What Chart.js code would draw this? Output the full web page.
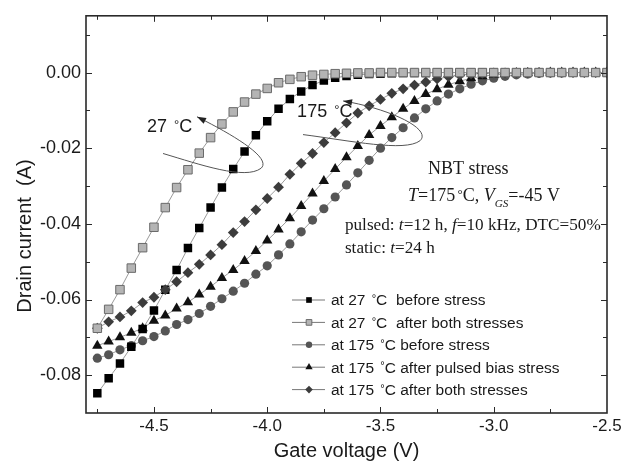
<!DOCTYPE html>
<html>
<head>
<meta charset="utf-8">
<script src="https://cdn.jsdelivr.net/npm/chart.js@4.4.0/dist/chart.umd.min.js"></script>
<style>
  html, body { margin: 0; padding: 0; background: #fff; }
</style>
</head>
<body>
<canvas id="chart" width="626" height="463"></canvas>
<script>
// Transfer curves of the transistor before / after NBT stress

const gateVoltage = [
  -4.75, -4.70, -4.65, -4.60, -4.55, -4.50, -4.45, -4.40, -4.35, -4.30,
  -4.25, -4.20, -4.15, -4.10, -4.05, -4.00, -3.95, -3.90, -3.85, -3.80,
  -3.75, -3.70, -3.65, -3.60, -3.55, -3.50, -3.45, -3.40, -3.35, -3.30,
  -3.25, -3.20, -3.15, -3.10, -3.05, -3.00, -2.95, -2.90, -2.85, -2.80,
  -2.75, -2.70, -2.65, -2.60, -2.55, -2.50
];

// at 27 C before stress (black squares)
const i27Before = [
  -0.0848, -0.0808, -0.0769, -0.0725, -0.0678, -0.0629, -0.0574, -0.0522, -0.0464, -0.0411,
  -0.0357, -0.0304, -0.0255, -0.0209, -0.0166, -0.0129, -0.0096, -0.0070, -0.0050, -0.0033,
  -0.0021, -0.0014, -0.0009, -0.0006, -0.0004, -0.0003, -0.0002, -0.0001, -0.0001, -0.0001,
  0, 0, 0, 0, 0, 0, 0, 0, 0, 0,
  0, 0, 0, 0, 0, 0
];

// at 27 C after both stresses (grey squares)
const i27After = [
  -0.0676, -0.0626, -0.0574, -0.0517, -0.0463, -0.0409, -0.0357, -0.0304, -0.0257, -0.0213,
  -0.0172, -0.0136, -0.0104, -0.0078, -0.0057, -0.0042, -0.0027, -0.0018, -0.0011, -0.0007,
  -0.0005, -0.0003, -0.0002, -0.0001, -0.0001, 0, 0, 0, 0, 0,
  0, 0, 0, 0, 0, 0, 0, 0, 0, 0,
  0, 0, 0, 0, 0, 0
];

// at 175 C before stress (circles)
const i175Before = [
  -0.0755, -0.0746, -0.0733, -0.0722, -0.0709, -0.0698, -0.0683, -0.0666, -0.0653, -0.0637,
  -0.0618, -0.0598, -0.0578, -0.0557, -0.0533, -0.0511, -0.0482, -0.0453, -0.0421, -0.0390,
  -0.0360, -0.0329, -0.0297, -0.0265, -0.0232, -0.0200, -0.0172, -0.0146, -0.0120, -0.0096,
  -0.0075, -0.0057, -0.0043, -0.0031, -0.0022, -0.0015, -0.0010, -0.0006, -0.0004, -0.0002,
  -0.0001, -0.0001, 0, 0, 0, 0
];

// at 175 C after pulsed bias stress (triangles)
const i175Pulsed = [
  -0.0722, -0.0711, -0.0700, -0.0688, -0.0676, -0.0656, -0.0642, -0.0624, -0.0607, -0.0587,
  -0.0566, -0.0543, -0.0522, -0.0498, -0.0472, -0.0444, -0.0415, -0.0385, -0.0353, -0.0320,
  -0.0287, -0.0255, -0.0224, -0.0194, -0.0165, -0.0141, -0.0118, -0.0096, -0.0075, -0.0057,
  -0.0044, -0.0032, -0.0023, -0.0015, -0.0010, -0.0006, -0.0004, -0.0002, -0.0001, -0.0001,
  0, 0, 0, 0, 0, 0
];

// at 175 C after both stresses (diamonds)
const i175Both = [
  -0.0676, -0.0659, -0.0646, -0.0630, -0.0608, -0.0594, -0.0574, -0.0553, -0.0529, -0.0507,
  -0.0482, -0.0455, -0.0423, -0.0394, -0.0363, -0.0333, -0.0303, -0.0269, -0.0240, -0.0214,
  -0.0185, -0.0159, -0.0133, -0.0107, -0.0088, -0.0071, -0.0055, -0.0043, -0.0033, -0.0025,
  -0.0017, -0.0011, -0.0007, -0.0004, -0.0002, -0.0001, -0.0001, 0, 0, 0,
  0, 0, 0, 0, 0, 0
];

const seriesLabels = [
  "at 27 °C  before stress",
  "at 27 °C  after both stresses",
  "at 175 °C before stress",
  "at 175 °C after pulsed bias stress",
  "at 175 °C after both stresses"
];

const xTicks = [-4.5, -4.0, -3.5, -3.0, -2.5];
const yTicks = [-0.08, -0.06, -0.04, -0.02, 0.0];

const SANS = '"Liberation Sans", Arial, sans-serif';
const SERIF = '"Liberation Serif", "Times New Roman", serif';

const toPoints = ys => gateVoltage.map((v, i) => ({ x: v, y: ys[i] }));

// marker styles, same order as seriesLabels
const markers = [
  { pointStyle: "rect", radius: 6, bg: "#000000", border: "#000000", bw: 0, lr: 4 },
  { pointStyle: "rect", radius: 6, bg: "#b4b4b4", border: "#6a6a6a", bw: 1, lr: 4 },
  { pointStyle: "circle", radius: 4.6, bg: "#555555", border: "#555555", bw: 0, lr: 3.2 },
  { pointStyle: "triangle", radius: 6, bg: "#111111", border: "#111111", bw: 0, lr: 4.2 },
  { pointStyle: "rectRot", radius: 5.4, bg: "#3c3c3c", border: "#3c3c3c", bw: 0, lr: 3.8 }
];
const seriesData = [i27Before, i27After, i175Before, i175Pulsed, i175Both];
const drawOrder = [2, 0, 4, 3, 1]; // lower is drawn on top

// draw text, "°" is set small and raised, parts may be italic / subscript
function drawRich(ctx, parts, x, y, size, family, align) {
  const fontFor = p => {
    const s = p.sub ? size * 0.62 : p.deg ? size * 0.72 : size;
    return (p.italic ? "italic " : "") + s.toFixed(1) + "px " + family;
  };
  let total = 0;
  parts.forEach(p => {
    ctx.font = fontFor(p);
    p.w = ctx.measureText(p.t).width;
    p.g = p.deg ? size * 0.12 : 0;
    total += p.w + p.g;
  });
  let cx = align === "center" ? x - total / 2 : x;
  ctx.textAlign = "left";
  ctx.textBaseline = "alphabetic";
  parts.forEach(p => {
    ctx.font = fontFor(p);
    cx += p.g;
    const dy = p.deg ? -size * 0.2 : p.sub ? size * 0.3 : 0;
    ctx.fillText(p.t, cx, y + dy);
    cx += p.w;
  });
}

function degParts(text) {
  const bits = text.split("°");
  const out = [{ t: bits[0] }];
  for (let k = 1; k < bits.length; k++) {
    out.push({ t: "°", deg: true });
    out.push({ t: bits[k] });
  }
  return out;
}

function arrowPath(ctx, pts) {
  ctx.beginPath();
  ctx.moveTo(pts[0][0], pts[0][1]);
  for (let k = 1; k + 2 < pts.length; k += 3) {
    ctx.bezierCurveTo(pts[k][0], pts[k][1], pts[k + 1][0], pts[k + 1][1], pts[k + 2][0], pts[k + 2][1]);
  }
  ctx.stroke();
  const end = pts[pts.length - 1], prev = pts[pts.length - 2];
  const ang = Math.atan2(end[1] - prev[1], end[0] - prev[0]);
  ctx.beginPath();
  ctx.moveTo(end[0], end[1]);
  ctx.lineTo(end[0] - 9 * Math.cos(ang) + 3.2 * Math.sin(ang), end[1] - 9 * Math.sin(ang) - 3.2 * Math.cos(ang));
  ctx.lineTo(end[0] - 9 * Math.cos(ang) - 3.2 * Math.sin(ang), end[1] - 9 * Math.sin(ang) + 3.2 * Math.cos(ang));
  ctx.closePath();
  ctx.fill();
}

// annotation curves, in (gate voltage, drain current)
const arrow27 = [[-4.460, -0.0214], [-4.297, -0.0243], [-4.098, -0.0285], [-4.027, -0.0253],
                 [-3.979, -0.0227], [-4.142, -0.0167], [-4.310, -0.0117]];
const arrow175 = [[-3.842, -0.0164], [-3.634, -0.0180], [-3.392, -0.0211], [-3.325, -0.0180],
                  [-3.272, -0.0149], [-3.458, -0.0096], [-3.665, -0.0075]];

const annotations = {
  id: "annotations",
  afterDatasetsDraw(chart) {
    const { ctx, scales: { x, y } } = chart;
    const P = q => [x.getPixelForValue(q[0]), y.getPixelForValue(q[1])];
    ctx.save();
    ctx.strokeStyle = "#555";
    ctx.fillStyle = "#222";
    ctx.lineWidth = 1;
    arrowPath(ctx, arrow27.map(P));
    arrowPath(ctx, arrow175.map(P));

    ctx.fillStyle = "#1a1a1a";
    let p = P([-4.531, -0.0141]);
    drawRich(ctx, degParts("27 °C"), p[0], p[1] + 6.5, 18, SANS);
    p = P([-3.868, -0.0101]);
    drawRich(ctx, degParts("175 °C"), p[0], p[1] + 6.5, 18, SANS);

    // stress conditions
    p = P([-3.290, -0.0253]);
    drawRich(ctx, [{ t: "NBT stress" }], p[0], p[1] + 6, 18, SERIF);
    p = P([-3.378, -0.0324]);
    drawRich(ctx, [
      { t: "T", italic: true }, { t: "=175" }, { t: "°", deg: true }, { t: "C, " },
      { t: "V", italic: true }, { t: "GS", italic: true, sub: true }, { t: "=-45 V" }
    ], p[0], p[1] + 6, 18, SERIF);
    p = P([-3.657, -0.0400]);
    drawRich(ctx, [
      { t: "pulsed: " }, { t: "t", italic: true }, { t: "=12 h, " },
      { t: "f", italic: true }, { t: "=10 kHz, DTC=50%" }
    ], p[0], p[1] + 5.7, 17.2, SERIF);
    p = P([-3.657, -0.0463]);
    drawRich(ctx, [{ t: "static: " }, { t: "t", italic: true }, { t: "=24 h" }], p[0], p[1] + 5.7, 17.2, SERIF);

    // legend
    const lx = 292, ly = 300, rowH = 22.4;
    seriesLabels.forEach((label, k) => {
      const m = markers[k];
      const yy = ly + k * rowH;
      ctx.strokeStyle = "#777";
      ctx.lineWidth = 1;
      ctx.beginPath();
      ctx.moveTo(lx, yy);
      ctx.lineTo(lx + 33, yy);
      ctx.stroke();
      ctx.fillStyle = m.bg;
      ctx.strokeStyle = m.border;
      ctx.lineWidth = m.bw;
      Chart.helpers.drawPoint(ctx, { pointStyle: m.pointStyle, radius: m.lr, rotation: 0, borderWidth: m.bw }, lx + 17, yy);
      ctx.fillStyle = "#1a1a1a";
      drawRich(ctx, degParts(label), lx + 39, yy + 5.3, 15.5, SANS);
    });

    // axis titles
    ctx.fillStyle = "#1a1a1a";
    ctx.font = "20px " + SANS;
    ctx.textAlign = "center";
    ctx.textBaseline = "middle";
    ctx.fillText("Gate voltage (V)", (chart.chartArea.left + chart.chartArea.right) / 2, 451);
    ctx.save();
    ctx.translate(25, 236);
    ctx.rotate(-Math.PI / 2);
    ctx.fillText("Drain current  (A)", 0, 0);
    ctx.restore();
    ctx.restore();
  }
};

// box and inward ticks on all four sides
const frame = {
  id: "frame",
  afterDraw(chart) {
    const { ctx, chartArea: a, scales: { x, y } } = chart;
    ctx.save();
    ctx.strokeStyle = "#2a2a2a";
    ctx.lineWidth = 1;
    const tick = (x1, y1, x2, y2) => { ctx.beginPath(); ctx.moveTo(x1, y1); ctx.lineTo(x2, y2); ctx.stroke(); };
    for (let v = -4.75; v < -2.5 - 1e-9; v += 0.25) {
      const px = Math.round(x.getPixelForValue(v)) + 0.5;
      const len = xTicks.some(t => Math.abs(t - v) < 1e-6) ? 6 : 4;
      tick(px, a.bottom, px, a.bottom - len);
      tick(px, a.top, px, a.top + len);
    }
    for (let v = 0.01; v > -0.09 + 1e-9; v -= 0.01) {
      const py = Math.round(y.getPixelForValue(v)) + 0.5;
      const len = yTicks.some(t => Math.abs(t - v) < 1e-6) ? 6 : 4;
      tick(a.left, py, a.left + len, py);
      tick(a.right, py, a.right - len, py);
    }
    ctx.lineWidth = 1.6;
    ctx.strokeRect(a.left, a.top, a.right - a.left, a.bottom - a.top);
    ctx.restore();
  }
};

new Chart(document.getElementById("chart"), {
  type: "scatter",
  data: {
    datasets: seriesData.map((ys, k) => ({
      label: seriesLabels[k],
      data: toPoints(ys),
      showLine: true,
      borderColor: "#9a9a9a",
      borderWidth: 1,
      pointStyle: markers[k].pointStyle,
      pointRadius: markers[k].radius,
      pointBackgroundColor: markers[k].bg,
      pointBorderColor: markers[k].border,
      pointBorderWidth: markers[k].bw,
      order: drawOrder[k],
      clip: 0
    }))
  },
  options: {
    responsive: false,
    animation: false,
    devicePixelRatio: 1,
    layout: { padding: { top: 12, right: 19, left: 0, bottom: 0 } },
    plugins: { legend: { display: false }, tooltip: { enabled: false } },
    scales: {
      x: {
        type: "linear",
        min: -4.8,
        max: -2.5,
        grid: { display: false, drawTicks: false },
        border: { display: false },
        afterBuildTicks: s => { s.ticks = xTicks.map(v => ({ value: v })); },
        afterFit: s => { s.height = 50; },
        ticks: {
          autoSkip: false,
          maxRotation: 0,
          padding: 3,
          color: "#1a1a1a",
          font: { family: SANS, size: 17 },
          callback: v => v.toFixed(1)
        }
      },
      y: {
        min: -0.09,
        max: 0.015,
        grid: { display: false, drawTicks: false },
        border: { display: false },
        afterBuildTicks: s => { s.ticks = yTicks.map(v => ({ value: v })); },
        afterFit: s => { s.width = 86; },
        ticks: {
          autoSkip: false,
          padding: 5,
          color: "#1a1a1a",
          font: { family: SANS, size: 18 },
          callback: v => v.toFixed(2)
        }
      }
    }
  },
  plugins: [annotations, frame]
});
</script>
</body>
</html>
